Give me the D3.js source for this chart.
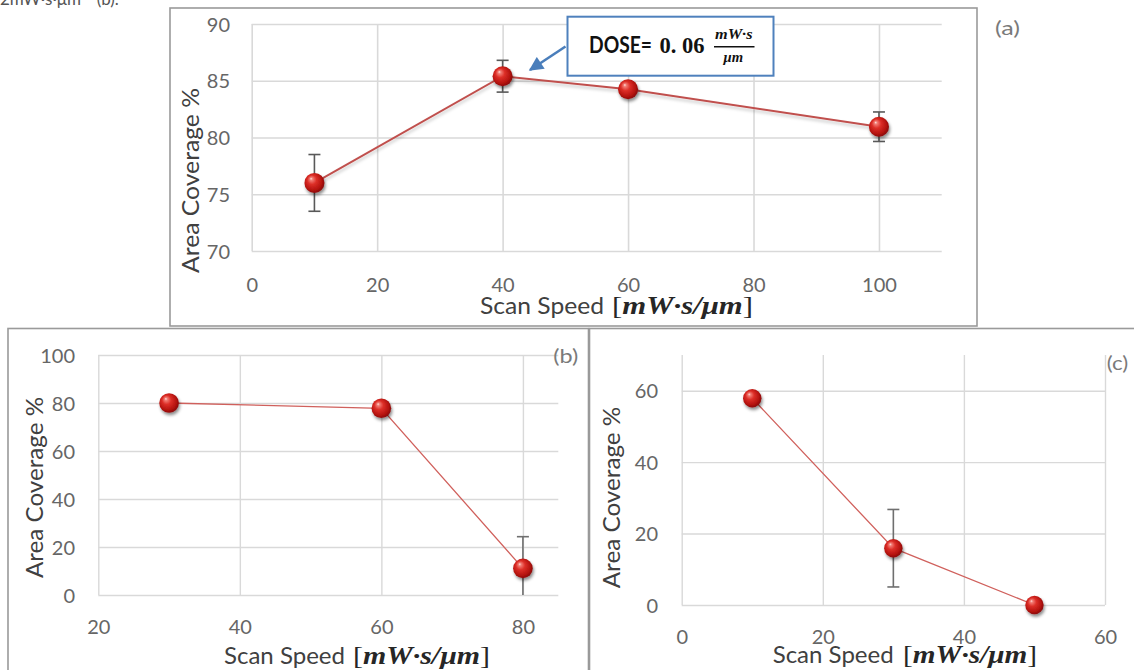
<!DOCTYPE html>
<html><head><meta charset="utf-8">
<script src="https://cdn.jsdelivr.net/npm/d3@7"></script>
<style>
body{margin:0;background:#fff;}
svg{display:block;}
</style></head><body>
<svg id="chart" width="1134" height="670"></svg>
<script>
// ---------- data ----------
const speedA = [10, 40, 60, 100];
const coverA = [76.0, 85.4, 84.25, 80.95];
const errA   = [2.5, 1.4, 0.6, 1.3];

const speedB = [30, 60, 80];
const coverB = [80.0, 77.8, 11.1];
const errB   = [0, 0, 13.2];

const speedC = [10, 30, 50];
const coverC = [57.9, 15.9, 0.0];
const errC   = [0, 10.85, 0];

const xTicksA = [0, 20, 40, 60, 80, 100], yTicksA = [70, 75, 80, 85, 90];
const xTicksB = [20, 40, 60, 80],         yTicksB = [0, 20, 40, 60, 80, 100];
const xTicksC = [0, 20, 40, 60],          yTicksC = [0, 20, 40, 60];

const xTitle = "Scan Speed", xUnit = "mW·s/μm", yTitle = "Area Coverage %";
const panelLabels = ["(a)", "(b)", "(c)"];
const doseLabel = "DOSE=", doseValue = "0. 06", doseNum = "mW·s", doseDen = "μm";
const captionFragment = "2mW·s·μm⁻¹ (b).";

// ---------- layout ----------
const SANS = "Lato, 'Open Sans', 'Noto Sans', sans-serif";
const SERIF = "'Liberation Serif', 'DejaVu Serif', serif";

const panels = [
  { xs: speedA, ys: coverA, es: errA, xTicks: xTicksA, yTicks: yTicksA,
    xDomain: [0, 110], yDomain: [70, 90], xRange: [251.7, 941.7], yRange: [251, 24],
    box: [170, 8, 977, 326], yLabRight: 230, xLabBase: 292,
    xt: { x1: 480, w1: 124, x2: 612, w2: 141, base: 314 },
    yt: { x: 199, cy: 180.5, len: 185 },
    lab: { x: 995, y: 35, w: 25, label: panelLabels[0] },
    r: 10, lineW: 2, lineC: "#c0504d", errCol: "#595959", gridW: 1.6 },
  { xs: speedB, ys: coverB, es: errB, xTicks: xTicksB, yTicks: yTicksB,
    xDomain: [20, 85], yDomain: [0, 100], xRange: [98.3, 558.3], yRange: [595, 355],
    box: [8, 328.5, 588.5, 700], yLabRight: 75, xLabBase: 634,
    xt: { x1: 224, w1: 121, x2: 353, w2: 137, base: 664 },
    yt: { x: 42.5, cy: 487.5, len: 181 },
    lab: { x: 553.3, y: 363, w: 25, label: panelLabels[1] },
    r: 9.8, lineW: 1.3, lineC: "#d0605c", errCol: "#6f6f6f", gridW: 1.4 },
  { xs: speedC, ys: coverC, es: errC, xTicks: xTicksC, yTicks: yTicksC,
    xDomain: [0, 60], yDomain: [0, 70], xRange: [681.7, 1105], yRange: [605, 355],
    box: [589.5, 328.5, 1150, 700], yLabRight: 658, xLabBase: 643.5,
    xt: { x1: 772.7, w1: 121, x2: 903, w2: 134, base: 663 },
    yt: { x: 620, cy: 497.5, len: 181.6 },
    lab: { x: 1106.7, y: 370, w: 21.5, label: panelLabels[2] },
    r: 9.2, lineW: 1.3, lineC: "#d0605c", errCol: "#6f6f6f", gridW: 1.4 }
];

const svg = d3.select("#chart");
const defs = svg.append("defs");

const grad = defs.append("radialGradient").attr("id", "sphere")
  .attr("cx", "45%").attr("cy", "45%").attr("r", "60%")
  .attr("fx", "33%").attr("fy", "28%");
[["0%", "#ffe0dc"], ["12%", "#f27d75"], ["38%", "#dd2f28"], ["75%", "#b5130f"], ["100%", "#7e0a08"]]
  .forEach(([o, c]) => grad.append("stop").attr("offset", o).attr("stop-color", c));

const sh = defs.append("filter").attr("id", "shadow")
  .attr("x", "-50%").attr("y", "-50%").attr("width", "200%").attr("height", "200%");
sh.append("feDropShadow").attr("dx", 1.2).attr("dy", 2.5).attr("stdDeviation", 1.8)
  .attr("flood-color", "#000").attr("flood-opacity", 0.45);

const lsh = defs.append("filter").attr("id", "lshadow")
  .attr("x", "-10%").attr("y", "-50%").attr("width", "120%").attr("height", "200%");
lsh.append("feDropShadow").attr("dx", 0.5).attr("dy", 2.5).attr("stdDeviation", 1.5)
  .attr("flood-color", "#000").attr("flood-opacity", 0.22);

const arrowDef = defs.append("marker").attr("id", "arrowHead")
  .attr("viewBox", "0 0 10 10").attr("refX", 9).attr("refY", 5)
  .attr("markerWidth", 6).attr("markerHeight", 5.5).attr("orient", "auto")
  .attr("markerUnits", "strokeWidth");
arrowDef.append("path").attr("d", "M0,0 L10,5 L0,10 Z").attr("fill", "#4a7ebb");

// caption fragment cut off at the top
svg.append("text").attr("x", 0).attr("y", 5).attr("font-family", SANS)
  .attr("font-size", 17).attr("fill", "#555").text(captionFragment);

panels.forEach((p, pi) => {
  const g = svg.append("g");
  const x = d3.scaleLinear().domain(p.xDomain).range(p.xRange);
  const y = d3.scaleLinear().domain(p.yDomain).range(p.yRange);
  const W = p.xRange[1] - p.xRange[0], H = p.yRange[0] - p.yRange[1];

  // panel frame
  g.append("rect").attr("x", p.box[0]).attr("y", p.box[1])
    .attr("width", p.box[2] - p.box[0]).attr("height", p.box[3] - p.box[1])
    .attr("fill", "#fff").attr("stroke", "#9a9a9a").attr("stroke-width", 1.6);

  // horizontal gridlines
  const hg = g.append("g").attr("transform", `translate(${p.xRange[0]},0)`)
    .call(d3.axisLeft(y).tickValues(p.yTicks).tickSize(-W).tickFormat(""));
  hg.select(".domain").remove();
  hg.selectAll("line").attr("stroke", "#d9d9d9").attr("stroke-width", p.gridW);

  // vertical gridlines
  const vg = g.append("g").attr("transform", `translate(0,${p.yRange[0]})`)
    .call(d3.axisBottom(x).tickValues(p.xTicks).tickSize(-H).tickFormat(""));
  vg.select(".domain").remove();
  vg.selectAll("line").attr("stroke", "#d9d9d9").attr("stroke-width", p.gridW);

  // tick labels
  const ya = g.append("g").attr("transform", `translate(${p.xRange[0]},0)`)
    .call(d3.axisLeft(y).tickValues(p.yTicks).tickSize(0).tickPadding(p.xRange[0] - p.yLabRight));
  ya.select(".domain").remove();
  ya.selectAll("text").attr("font-family", SANS).attr("font-size", 20)
    .attr("fill", "#666").attr("dy", "0.36em");

  const xa = g.append("g").attr("transform", `translate(0,${p.yRange[0]})`)
    .call(d3.axisBottom(x).tickValues(p.xTicks).tickSize(0));
  xa.select(".domain").remove();
  xa.selectAll("text").attr("font-family", SANS).attr("font-size", 20)
    .attr("fill", "#666").attr("dy", 0).attr("y", p.xLabBase - p.yRange[0]);

  // axis titles
  g.append("text").attr("x", p.xt.x1).attr("y", p.xt.base)
    .attr("font-family", SANS).attr("font-size", 24).attr("fill", "#404040")
    .attr("textLength", p.xt.w1).attr("lengthAdjust", "spacingAndGlyphs").text(xTitle);
  const ut = g.append("text").attr("x", p.xt.x2).attr("y", p.xt.base)
    .attr("font-family", SERIF).attr("font-size", 26).attr("fill", "#262626")
    .attr("textLength", p.xt.w2).attr("lengthAdjust", "spacingAndGlyphs");
  ut.append("tspan").text("[");
  ut.append("tspan").attr("font-style", "italic").attr("font-weight", "bold").text(xUnit);
  ut.append("tspan").text("]");

  g.append("text").attr("transform", `translate(${p.yt.x},${p.yt.cy}) rotate(-90)`)
    .attr("x", -p.yt.len / 2).attr("y", 0)
    .attr("font-family", SANS).attr("font-size", 23).attr("fill", "#404040")
    .attr("textLength", p.yt.len).attr("lengthAdjust", "spacingAndGlyphs").text(yTitle);

  // panel letter
  g.append("text").attr("x", p.lab.x).attr("y", p.lab.y)
    .attr("font-family", SANS).attr("font-size", 20).attr("fill", "#7a7a7a")
    .attr("textLength", p.lab.w).attr("lengthAdjust", "spacingAndGlyphs").text(p.lab.label);

  const idx = d3.range(p.xs.length);

  // series line
  g.append("path").datum(idx)
    .attr("d", d3.line().x(i => x(p.xs[i])).y(i => y(p.ys[i])))
    .attr("fill", "none").attr("stroke", p.lineC).attr("stroke-width", p.lineW)
    .attr("filter", pi === 0 ? "url(#lshadow)" : null);

  // error bars
  const cap = 6;
  idx.filter(i => p.es[i] > 0).forEach(i => {
    const lo = p.ys[i] - p.es[i], hi = p.ys[i] + p.es[i];
    const loC = Math.max(lo, p.yDomain[0]), hiC = Math.min(hi, p.yDomain[1]);
    const cx = x(p.xs[i]);
    g.append("line").attr("x1", cx).attr("x2", cx).attr("y1", y(loC)).attr("y2", y(hiC))
      .attr("stroke", p.errCol).attr("stroke-width", 1.6);
    if (hi <= p.yDomain[1]) g.append("line").attr("x1", cx - cap).attr("x2", cx + cap)
      .attr("y1", y(hi)).attr("y2", y(hi)).attr("stroke", p.errCol).attr("stroke-width", 1.6);
    if (lo >= p.yDomain[0]) g.append("line").attr("x1", cx - cap).attr("x2", cx + cap)
      .attr("y1", y(lo)).attr("y2", y(lo)).attr("stroke", p.errCol).attr("stroke-width", 1.6);
  });

  // markers
  g.selectAll("circle.pt").data(idx).enter().append("circle").attr("class", "pt")
    .attr("cx", i => x(p.xs[i])).attr("cy", i => y(p.ys[i])).attr("r", p.r)
    .attr("fill", "url(#sphere)").attr("filter", "url(#shadow)");
});

// ---------- annotation in panel (a) ----------
const ann = svg.append("g");
ann.append("line").attr("x1", 565.5).attr("y1", 46.5).attr("x2", 530).attr("y2", 70)
  .attr("stroke", "#4a7ebb").attr("stroke-width", 2.6).attr("marker-end", "url(#arrowHead)");
ann.append("rect").attr("x", 567.5).attr("y", 16.7).attr("width", 206).attr("height", 59)
  .attr("fill", "#fff").attr("stroke", "#4f81bd").attr("stroke-width", 2);
ann.append("text").attr("x", 589).attr("y", 53.3).attr("font-family", SANS)
  .attr("font-weight", "bold").attr("font-size", 22).attr("fill", "#111")
  .attr("textLength", 63).attr("lengthAdjust", "spacingAndGlyphs").text(doseLabel);
ann.append("text").attr("x", 659.5).attr("y", 53.3).attr("font-family", SERIF)
  .attr("font-weight", "bold").attr("font-size", 24).attr("fill", "#111")
  .attr("textLength", 45).attr("lengthAdjust", "spacingAndGlyphs").text(doseValue);
ann.append("text").attr("x", 715).attr("y", 39.3).attr("font-family", SERIF)
  .attr("font-weight", "bold").attr("font-style", "italic").attr("font-size", 15).attr("fill", "#111")
  .attr("textLength", 37.5).attr("lengthAdjust", "spacingAndGlyphs").text(doseNum);
ann.append("line").attr("x1", 714).attr("x2", 754.5).attr("y1", 46.7).attr("y2", 46.7)
  .attr("stroke", "#111").attr("stroke-width", 1.6);
ann.append("text").attr("x", 723.5).attr("y", 61.8).attr("font-family", SERIF)
  .attr("font-weight", "bold").attr("font-style", "italic").attr("font-size", 15).attr("fill", "#111")
  .attr("textLength", 19.5).attr("lengthAdjust", "spacingAndGlyphs").text(doseDen);
</script>
</body></html>
